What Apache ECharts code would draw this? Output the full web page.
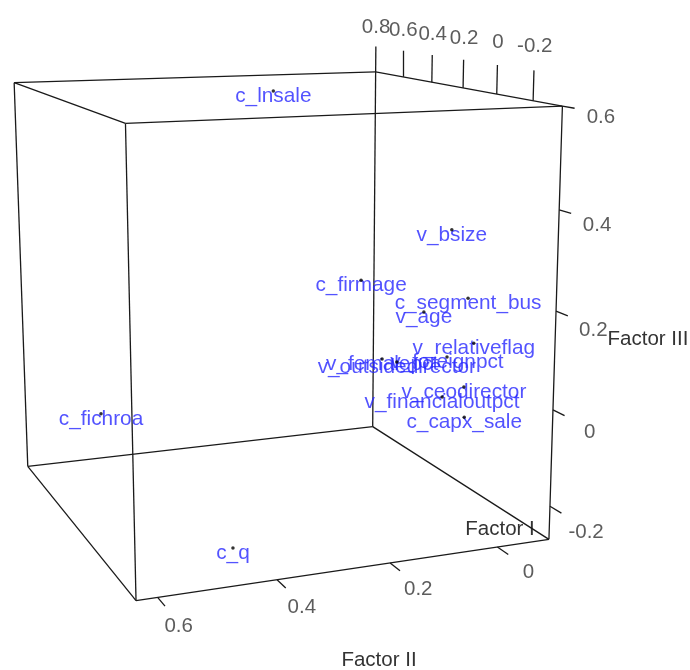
<!DOCTYPE html>
<html><head><meta charset="utf-8">
<script src="https://cdn.jsdelivr.net/npm/echarts@6/dist/echarts.min.js"></script>
<style>html,body{margin:0;padding:0;background:#fff}#c{width:690px;height:670px}</style>
</head><body><div id="c"></div>
<script>
// ---- data: factor loadings ----
const variables = ['c_lnsale','c_fichroa','c_q','c_firmage','c_segment_bus','c_capx_sale','v_bsize','v_age',
  'v_relativeflag','v_outsidedirector','v_femalepct','v_foreignpct','v_ceodirector','v_financialoutpct'];
const factor1 = [0.294,-0.069,-0.096,0.800,0.144,-0.350,0.150,0.300,0.050,0.450,0.500,0.200,0.000,0.150];
const factor2 = [0.245,0.635,0.417,-0.071,-0.100,0.068,-0.066,-0.059,-0.082,-0.049,-0.032,-0.077,-0.047,-0.052];
const factor3 = [0.600,0.027,-0.270,0.101,0.152,0.006,0.303,0.101,0.070,-0.038,-0.038,0.014,-0.013,-0.064];
const ticksFactorI = [0.8,0.6,0.4,0.2,0,-0.2];
const ticksFactorII = [0.6,0.4,0.2,0];
const ticksFactorIII = [0.6,0.4,0.2,0,-0.2];
const axisTitles = ['Factor I','Factor II','Factor III'];

// ---- view (perspective camera on the unit-normalised bounding box) ----
const viewMatrix = [[-91.7970,-425.695,-16.1683,548.946],[-16.0398,4.88108,-438.910,539.353],[0.226590,-0.0938640,-0.0526738,1]];
const ranges = [factor1,factor2,factor3].map(a=>[Math.min(...a),Math.max(...a)]);
function proj(f){
  const n=f.map((v,i)=>(v-ranges[i][0])/(ranges[i][1]-ranges[i][0])).concat([1]);
  const d=r=>r[0]*n[0]+r[1]*n[1]+r[2]*n[2]+r[3]*n[3];
  const W=d(viewMatrix[2]);return [d(viewMatrix[0])/W,d(viewMatrix[1])/W];
}
const [R1,R2,R3]=ranges;
const span=ranges.map(r=>r[1]-r[0]);
// box edges
const segs=[];
for(const a of [0,1])for(const b of [0,1]){
  segs.push([[R1[0],R2[a],R3[b]],[R1[1],R2[a],R3[b]]]);
  segs.push([[R1[a],R2[0],R3[b]],[R1[a],R2[1],R3[b]]]);
  segs.push([[R1[a],R2[b],R3[0]],[R1[a],R2[b],R3[1]]]);
}
// axis ticks + labels
const tickLab=[];
ticksFactorI.forEach(t=>{segs.push([[t,R2[0],R3[1]],[t,R2[0],R3[1]+0.068*span[2]]]);
  tickLab.push({name:String(t),value:proj([t,R2[0],R3[1]+0.13*span[2]])});});
ticksFactorII.forEach(t=>{segs.push([[R1[0],t,R3[0]],[R1[0]-0.052*span[0],t,R3[0]]]);
  tickLab.push({name:String(t),value:proj([R1[0]-0.145*span[0],t,R3[0]])});});
ticksFactorIII.forEach(t=>{segs.push([[R1[0],R2[0],t],[R1[0]-0.052*span[0],R2[0],t]]);
  tickLab.push({name:String(t),value:proj([R1[0]-0.16*span[0],R2[0],t])});});

const pts=variables.map((v,i)=>({name:v,value:proj([factor1[i],factor2[i],factor3[i]])}));
const FONT='"Liberation Sans", Arial, sans-serif';
const chart=echarts.init(document.getElementById('c'));
chart.setOption({animation:false,grid:{left:0,right:0,top:0,bottom:0},
  xAxis:{type:'value',min:0,max:690,show:false},
  yAxis:{type:'value',min:0,max:670,inverse:true,show:false},
  series:[
    {type:'lines',coordinateSystem:'cartesian2d',z:1,silent:true,
     data:segs.map(s=>({coords:[proj(s[0]),proj(s[1])]})),
     lineStyle:{color:'#1a1a1a',width:1.3,opacity:1}},
    {type:'scatter',z:2,symbolSize:1,itemStyle:{color:'rgba(0,0,0,0)'},data:tickLab,
     label:{show:true,position:'inside',offset:[0,4],formatter:'{b}',color:'#333',fontSize:20.5,fontFamily:FONT}},
    {type:'scatter',z:3,symbolSize:1,itemStyle:{color:'rgba(0,0,0,0)'},data:pts,
     label:{show:true,position:'inside',offset:[0,5],formatter:'{b}',color:'#2828ff',fontSize:20.8,fontFamily:FONT}},
    {type:'scatter',z:4,symbolSize:3.5,itemStyle:{color:'#000'},data:pts}
  ],
  graphic:[
    {type:'text',x:500,y:529,style:{text:axisTitles[0],font:'20.5px '+FONT,fill:'#333',align:'center',verticalAlign:'middle'}},
    {type:'text',x:379,y:660,style:{text:axisTitles[1],font:'20.5px '+FONT,fill:'#333',align:'center',verticalAlign:'middle'}},
    {type:'text',x:648,y:339,style:{text:axisTitles[2],font:'20.5px '+FONT,fill:'#333',align:'center',verticalAlign:'middle'}}
  ]});
</script></body></html>
